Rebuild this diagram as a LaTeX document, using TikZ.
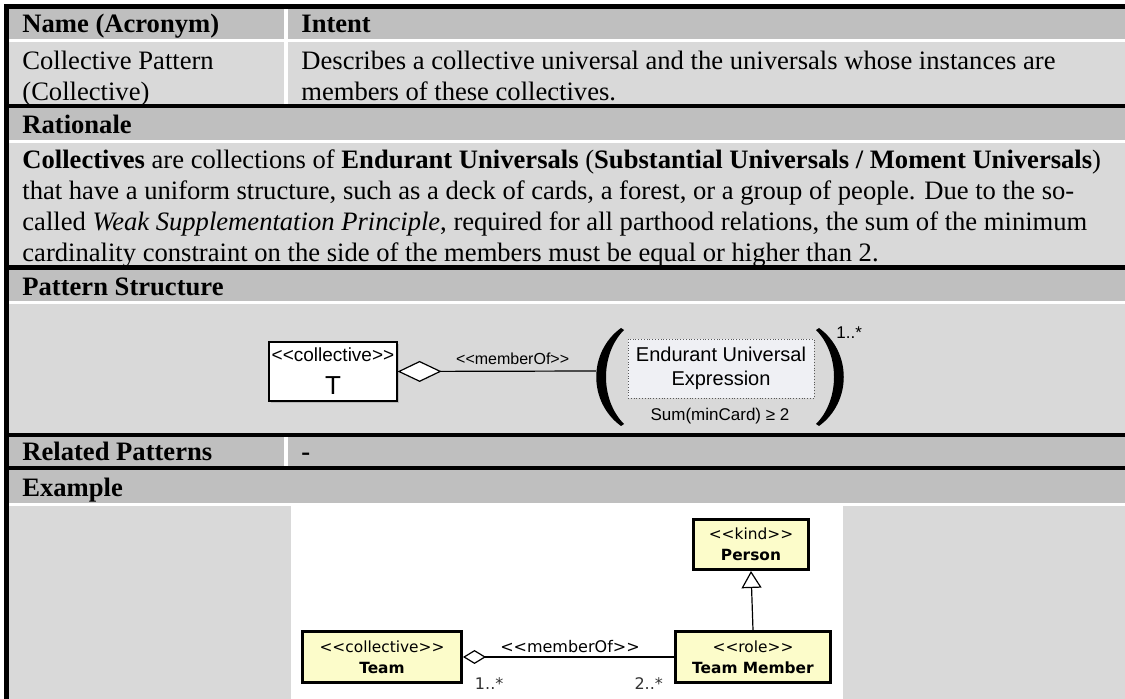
\documentclass[tikz,border=0pt]{standalone}
\usepackage{fontspec}
\setmainfont{Liberation Serif}
\newfontfamily\umlfont{Liberation Sans}
\newfontfamily\exfont{DejaVu Sans}
\usetikzlibrary{arrows.meta, shadows}
\definecolor{headgray}{RGB}{191,191,191}
\definecolor{cellgray}{RGB}{217,217,217}
\definecolor{umlyellow}{RGB}{252,252,202}
\definecolor{exprfill}{RGB}{239,240,244}
\newcommand{\stereo}[1]{<{}<#1>{}>}

\begin{document}
\begin{tikzpicture}[x=0.5pt, y=-0.5pt,
        headtext/.style={anchor=base west, inner sep=0pt, font=\fontsize{13.3}{15.5}\selectfont\bfseries},
        blocktext/.style={anchor=north west, inner sep=0pt, align=left, font=\fontsize{13.3}{15.5}\selectfont},
        classbox/.style={draw, fill=white, line width=0.6pt, minimum width=64pt, minimum height=29.5pt, inner sep=1pt, align=center, font=\umlfont\fontsize{9.5}{16.5}\selectfont, drop shadow={shadow xshift=0.8pt, shadow yshift=-0.8pt, opacity=0.35}},
        exprbox/.style={draw=black!65, densely dotted, fill=exprfill, minimum width=93pt, minimum height=29.5pt, inner sep=1pt, align=center, font=\umlfont\fontsize{10}{12}\selectfont},
        smalltext/.style={inner sep=0pt, font=\umlfont\fontsize{8.5}{10}\selectfont},
        exclass/.style={draw, line width=1.5pt, fill=umlyellow, inner sep=1pt, align=center, font=\exfont\fontsize{7.7}{10.5}\selectfont},
        extext/.style={inner sep=0pt, font=\exfont\fontsize{8}{10}\selectfont},
        aggline/.style={{Diamond[fill=white, length=22pt, width=10.5pt]}-, line width=0.6pt},
        exagg/.style={{Diamond[fill=white, length=11.5pt, width=7pt]}-, line width=0.6pt},
        genline/.style={-{Triangle[fill=white, length=8.5pt, width=10pt]}, line width=0.6pt}]
        \useasboundingbox (0,0) rectangle (1125,699);

        % Table
        \fill[black] (4,4) rectangle (1125,9);
        \fill[black] (4,4) rectangle (9,699);
        \fill[headgray] (9,9) rectangle (1125,39);
        \fill[white] (9,39) rectangle (1125,42);
        \fill[cellgray] (9,42) rectangle (1125,104);
        \fill[white] (284,9) rectangle (288,104);
        \fill[black] (9,104) rectangle (1125,108);
        \fill[headgray] (9,108) rectangle (1125,140);
        \fill[white] (9,140) rectangle (1125,143);
        \fill[cellgray] (9,143) rectangle (1125,265);
        \fill[black] (9,265) rectangle (1125,270);
        \fill[headgray] (9,270) rectangle (1125,301);
        \fill[white] (9,301) rectangle (1125,304);
        \fill[cellgray] (9,304) rectangle (1125,433);
        \fill[black] (9,433) rectangle (1125,437);
        \fill[headgray] (9,437) rectangle (1125,466);
        \fill[white] (284,437) rectangle (288,466);
        \fill[black] (9,466) rectangle (1125,470);
        \fill[headgray] (9,470) rectangle (1125,503);
        \fill[white] (9,503) rectangle (1125,506);
        \fill[cellgray] (9,506) rectangle (1125,699);
        \fill[white] (291,506) rectangle (843,699);

        % Cells
        \node[headtext] (namehead) at (22,33) {Name (Acronym)};
        \node[headtext] (intenthead) at (301,33) {Intent};
        \node[blocktext] (namecell) at (22,47.3) {\strut Collective Pattern\\(Collective)};
        \node[blocktext] (intentcell) at (301,47.3) {\strut Describes a collective universal and the universals whose instances are\\members of these collectives.};
        \node[headtext] (rationalehead) at (22,134) {Rationale};
        \node[blocktext] (rationalecell) at (22,146.3) {\strut\textbf{Collectives} are collections of \textbf{Endurant Universals} (\textbf{Substantial Universals / Moment Universals})\\that have a uniform structure, such as a deck of cards, a forest, or a group of people. Due to the so-\\called \textit{Weak Supplementation Principle}, required for all parthood relations, the sum of the minimum\\cardinality constraint on the side of the members must be equal or higher than 2.};
        \node[headtext] (structurehead) at (22,296) {Pattern Structure};
        \node[headtext] (relatedhead) at (22,461) {Related Patterns};
        \node[headtext] (relatedcell) at (301,461) {-};
        \node[headtext] (examplehead) at (22,497) {Example};

        % Pattern structure
        \node[classbox] (T) at (333,371.5) {\stereo{collective}\\{\fontsize{13}{13}\selectfont T}};
        \node[exprbox] (expr) at (721,368.5) {Endurant Universal\\Expression};
        \node[smalltext] (sumcard) at (720,416) {Sum(minCard) ≥ 2};
        \coordinate (lparen) at (596,371);
        \draw[aggline] (T.east) -- (lparen)
            node[pos=0.58, above=3pt, smalltext, font=\umlfont\fontsize{8}{10}\selectfont] (memberof) {\stereo{memberOf}};
        \fill[black] (621,328) .. controls (588,352) and (588,402) .. (621,426) -- (624,424) .. controls (600,400) and (600,354) .. (624,330) -- cycle;
        \fill[black] (819,328) .. controls (852,352) and (852,402) .. (819,426) -- (816,424) .. controls (840,400) and (840,354) .. (816,330) -- cycle;
        \node[smalltext, anchor=west] (mult) at (836,333) {1..*};

        % Example
        \node[exclass, minimum width=57.5pt, minimum height=25pt] (person) at (751,544.5) {\stereo{kind}\\\textbf{Person}};
        \node[exclass, minimum width=77.5pt, minimum height=25.5pt] (member) at (753,657) {\stereo{role}\\\textbf{Team Member}};
        \node[exclass, minimum width=79.5pt, minimum height=25.5pt] (team) at (382,657) {\stereo{collective}\\\textbf{Team}};
        \draw[genline] (member.north) -- (person.south);
        \draw[exagg] (team.east) -- (member.west)
            node[pos=0.507, above=2pt, extext] (exmemberof) {\stereo{memberOf}}
            node[pos=0.124, below=10pt, extext, text=black!80] (teammult) {1..*}
            node[pos=0.88, below=10pt, extext, text=black!80] (membermult) {2..*};
\end{tikzpicture}
\end{document}
